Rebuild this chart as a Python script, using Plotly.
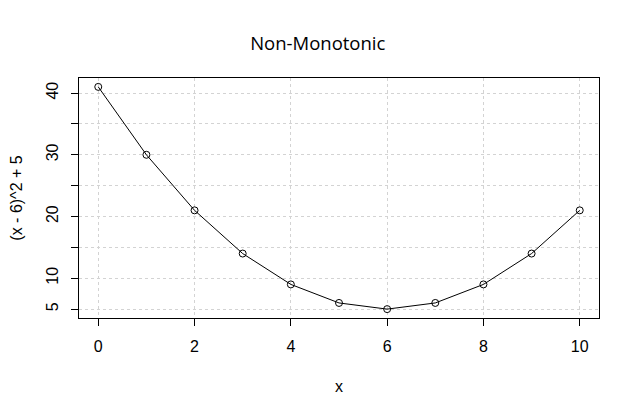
import plotly.graph_objects as go

x_vals = [0, 1, 2, 3, 4, 5, 6, 7, 8, 9, 10]
y_vals = [41, 30, 21, 14, 9, 6, 5, 6, 9, 14, 21]
x_ticks = [0, 2, 4, 6, 8, 10]
y_ticks = [5, 10, 15, 20, 25, 30, 35, 40]
y_tick_text = ["5", "10", "", "20", "", "30", "", "40"]

fig = go.Figure(go.Scatter(
    x=x_vals, y=y_vals, mode="lines+markers",
    line=dict(color="black", width=1),
    marker=dict(symbol="circle-open", size=7, color="black", line=dict(width=1)),
))

# the page puts the plot 8px in from the top left, so margins are shifted to match
axis_font = dict(family="Liberation Sans, Arial", size=16, color="black")
fig.update_layout(
    width=640, height=416,
    margin=dict(l=71, r=49, t=70, b=106, autoexpand=False),
    paper_bgcolor="white", plot_bgcolor="white",
    showlegend=False,
    title=dict(text="Non-Monotonic", x=0.484, xanchor="center", y=0.9135, yanchor="middle",
               font=dict(family="Open Sans", size=18.5, color="black")),
    xaxis=dict(
        range=[-0.4, 10.4], tickvals=x_ticks, ticks="outside", ticklen=7,
        tickcolor="black", showline=True, linecolor="black", linewidth=1, mirror=True,
        showgrid=True, gridcolor="lightgray", griddash="dot", zeroline=False,
        tickfont=axis_font, ticklabelstandoff=7, automargin=False,
        title=dict(text="x", font=axis_font, standoff=26),
    ),
    yaxis=dict(
        range=[3.56, 42.44], tickvals=y_ticks, ticktext=y_tick_text, ticks="outside",
        ticklen=7, tickcolor="black", tickangle=-90, showline=True, linecolor="black",
        linewidth=1, mirror=True, showgrid=True, gridcolor="lightgray", griddash="dot",
        zeroline=False, tickfont=axis_font, ticklabelstandoff=7, automargin=False,
        title=dict(text="(x - 6)^2 + 5", font=axis_font, standoff=18),
    ),
)

fig.write_html("out.html")
